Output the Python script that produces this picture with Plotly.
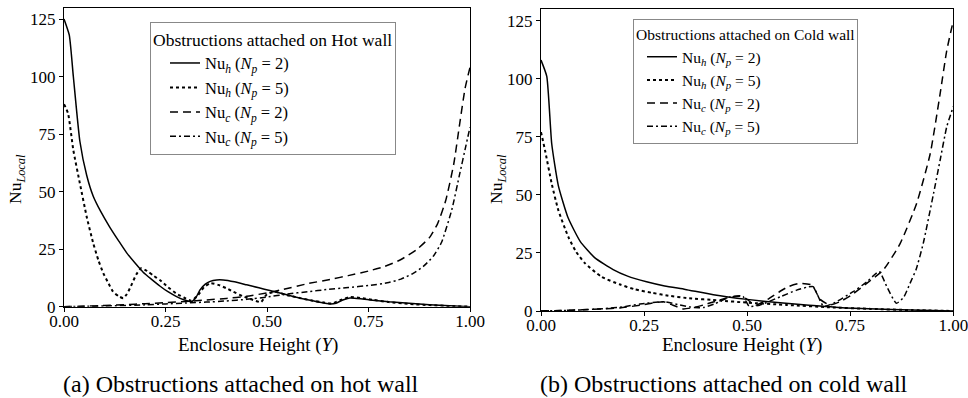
import plotly.graph_objects as go

# ---------------- data: hot wall (a) ----------------
hot_h2_x = [0, 0.013, 0.023, 0.039, 0.056, 0.072, 0.09, 0.113, 0.135, 0.154, 0.175, 0.195, 0.215, 0.236, 0.256,
            0.276, 0.295, 0.314, 0.325, 0.335, 0.348, 0.36, 0.376, 0.392, 0.42, 0.45, 0.48, 0.507, 0.54, 0.57,
            0.6, 0.63, 0.655, 0.67, 0.685, 0.704, 0.73, 0.76, 0.8, 0.85, 0.9, 0.95, 1.0]
hot_h2_y = [125, 118, 100, 72, 57, 48, 41.5, 34.5, 28.5, 23.5, 19, 15, 12, 9, 6.5,
            4.5, 3, 2.2, 4, 7.3, 9.8, 11, 11.6, 11.6, 10.8, 9.5, 8.2, 7, 5.6, 4.2,
            3, 1.9, 1.2, 1.5, 2.8, 3.8, 3.5, 2.8, 2.1, 1.5, 0.9, 0.4, 0]

hot_h5_x = [0, 0.01, 0.023, 0.039, 0.056, 0.072, 0.085, 0.097, 0.11, 0.121, 0.135, 0.146, 0.155, 0.165, 0.178,
            0.19, 0.205, 0.22, 0.236, 0.256, 0.276, 0.295, 0.314, 0.33, 0.345, 0.36, 0.38, 0.4, 0.417, 0.44,
            0.466, 0.485, 0.5, 0.52, 0.55, 0.58, 0.61, 0.64, 0.66, 0.68, 0.705, 0.73, 0.76, 0.8, 0.85, 0.9,
            0.95, 1.0]
hot_h5_y = [88, 84, 68, 53.7, 39, 27.6, 20, 14.5, 10, 6.5, 4.5, 3.7, 5.5, 9, 14,
            16.7, 15.5, 13.5, 11.6, 8.5, 5.8, 4, 2.6, 5, 8.5, 10.2, 9.5, 8, 6.5, 4.6,
            2.9, 2, 5.5, 6.5, 5, 3.8, 2.7, 1.8, 1.4, 2.8, 4.2, 3.8, 3, 2, 1.2, 0.7,
            0.3, 0]

hot_c2_x = [0, 0.05, 0.1, 0.15, 0.2, 0.25, 0.3, 0.35, 0.4, 0.45, 0.5, 0.54, 0.6, 0.66, 0.7, 0.75, 0.79,
            0.83, 0.87, 0.9, 0.92, 0.94, 0.96, 0.975, 0.988, 1.0]
hot_c2_y = [0, 0.2, 0.5, 0.9, 1.3, 1.8, 2.3, 2.9, 3.6, 4.5, 6, 7.5, 10, 12, 13.5, 15.5, 17.5,
            20.5, 25, 30, 36, 46, 62, 80, 95, 104]

hot_c5_x = [0, 0.1, 0.2, 0.25, 0.3, 0.35, 0.4, 0.45, 0.5, 0.55, 0.6, 0.65, 0.7, 0.75, 0.8, 0.83, 0.86,
            0.885, 0.91, 0.93, 0.955, 0.975, 0.99, 1.0]
hot_c5_y = [0, 0.3, 0.8, 1.2, 1.6, 2, 2.5, 3.2, 4.2, 5.5, 6.5, 7.5, 8.3, 9.2, 10.5, 12, 14.5,
            17.5, 22, 28, 42, 58, 70, 78]

# ---------------- data: cold wall (b) ----------------
cold_h2_x = [0, 0.014, 0.026, 0.042, 0.066, 0.095, 0.13, 0.175, 0.21, 0.256, 0.3, 0.35, 0.418, 0.5, 0.58,
             0.65, 0.74, 0.85, 0.95, 1.0]
cold_h2_y = [108, 101, 72, 54, 40, 30, 23, 17.8, 15, 12.6, 10.8, 9.3, 7, 5, 3.5,
             2.5, 1.3, 0.6, 0.2, 0]

cold_h5_x = [0, 0.01, 0.026, 0.042, 0.066, 0.085, 0.107, 0.147, 0.19, 0.228, 0.27, 0.309, 0.353, 0.434,
             0.5, 0.596, 0.7, 0.8, 0.9, 1.0]
cold_h5_y = [77, 69, 54.8, 43.4, 32, 25.5, 20.5, 14.7, 11.5, 9.3, 7.8, 6.6, 5.6, 4.5,
             3.6, 2.6, 1.6, 0.9, 0.4, 0]

cold_c2_x = [0, 0.05, 0.1, 0.15, 0.192, 0.24, 0.297, 0.32, 0.345, 0.37, 0.394, 0.42, 0.45, 0.483, 0.5,
             0.52, 0.55, 0.58, 0.6, 0.628, 0.657, 0.677, 0.7, 0.725, 0.75, 0.79, 0.83, 0.871, 0.911, 0.944,
             0.968, 0.984, 1.0]
cold_c2_y = [0, 0.2, 0.5, 0.9, 1.3, 2.5, 4, 2.5, 0.9, 1.5, 2.6, 4, 5.6, 6.5, 5,
             2.5, 5, 8.5, 10.5, 11.9, 11.2, 5, 2.6, 4, 6.5, 11.9, 17.6, 29, 46.3, 67.7,
             93.5, 112, 125]

cold_c5_x = [0, 0.05, 0.1, 0.15, 0.2, 0.24, 0.297, 0.337, 0.37, 0.394, 0.42, 0.458, 0.49, 0.505, 0.53,
             0.58, 0.62, 0.644, 0.66, 0.685, 0.709, 0.757, 0.79, 0.82, 0.84, 0.862, 0.88, 0.895, 0.91,
             0.927, 0.952, 0.968, 0.984, 1.0]
cold_c5_y = [0, 0.2, 0.5, 1, 1.8, 3, 4, 2.6, 1.5, 1.5, 3, 6, 6.2, 2, 2.5,
             6.1, 9, 10.2, 10.5, 2.1, 3.3, 8.3, 12.5, 17, 10, 3.3, 6, 11.9, 18,
             29, 50.5, 64.9, 79.2, 88]

x_ticks = [0, 0.25, 0.5, 0.75, 1.0]
y_ticks = [0, 25, 50, 75, 100, 125]

names = ["Nu<sub><i>h</i></sub> (<i>N</i><sub><i>p</i></sub> = 2)",
         "Nu<sub><i>h</i></sub> (<i>N</i><sub><i>p</i></sub> = 5)",
         "Nu<sub><i>c</i></sub> (<i>N</i><sub><i>p</i></sub> = 2)",
         "Nu<sub><i>c</i></sub> (<i>N</i><sub><i>p</i></sub> = 5)"]

FONT = "Liberation Serif, DejaVu Serif, serif"
W, H = 968, 398

styles = [dict(color="black", width=1.5, dash="solid"),
          dict(color="black", width=2, dash="dot"),
          dict(color="black", width=1.5, dash="8px,5px"),
          dict(color="black", width=1.5, dash="6px,3px,2px,3px")]

fig = go.Figure()
hot = [(hot_h2_x, hot_h2_y), (hot_h5_x, hot_h5_y), (hot_c2_x, hot_c2_y), (hot_c5_x, hot_c5_y)]
cold = [(cold_h2_x, cold_h2_y), (cold_h5_x, cold_h5_y), (cold_c2_x, cold_c2_y), (cold_c5_x, cold_c5_y)]
for i, (xs, ys) in enumerate(hot):
    fig.add_trace(go.Scatter(x=xs, y=ys, mode="lines", name=names[i],
                             line=dict(shape="spline", smoothing=0.5, **styles[i]),
                             xaxis="x", yaxis="y", legend="legend"))
for i, (xs, ys) in enumerate(cold):
    fig.add_trace(go.Scatter(x=xs, y=ys, mode="lines", name=names[i],
                             line=dict(shape="spline", smoothing=0.5, **styles[i]),
                             xaxis="x2", yaxis="y2", legend="legend2"))

def px_x(p):
    return p / W

def px_y(p):
    return 1 - p / H

axis_common = dict(showline=True, linecolor="black", linewidth=1, mirror=True, showgrid=False,
                   zeroline=False, ticks="outside", ticklen=4, tickcolor="black", automargin=False,
                   ticklabeloverflow="allow",
                   tickfont=dict(family=FONT, size=17, color="black"))

fig.update_layout(
    width=W, height=H, margin=dict(l=0, r=0, t=0, b=0, autoexpand=False),
    paper_bgcolor="white", plot_bgcolor="white",
    font=dict(family=FONT, color="black"),
    xaxis=dict(domain=[px_x(64), px_x(470)], range=[0, 1], tickvals=x_ticks, tickformat=".2f",
               anchor="y", ticklabelstandoff=-5, **axis_common),
    yaxis=dict(domain=[px_y(306.7), px_y(7.5)], range=[0, 130], tickvals=y_ticks, anchor="x",
               **axis_common),
    xaxis2=dict(domain=[px_x(541), px_x(953.3)], range=[0, 1], tickvals=x_ticks, tickformat=".2f",
                anchor="y2", ticklabelstandoff=-5, **axis_common),
    yaxis2=dict(domain=[px_y(311), px_y(9)], range=[0, 130], tickvals=y_ticks, anchor="x2",
                **axis_common),
    legend=dict(x=px_x(150), y=px_y(22), xanchor="left", yanchor="top", bgcolor="white",
                bordercolor="#888", borderwidth=1, font=dict(family=FONT, size=16.5),
                title=dict(text="Obstructions attached on Hot wall", font=dict(family=FONT, size=17.5)),
                tracegroupgap=0, itemwidth=30, indentation=14),
    legend2=dict(x=px_x(633), y=px_y(19), xanchor="left", yanchor="top", bgcolor="white",
                 bordercolor="#888", borderwidth=1, font=dict(family=FONT, size=15.5),
                 title=dict(text="Obstructions attached on Cold wall", font=dict(family=FONT, size=15.5)),
                 tracegroupgap=0, itemwidth=30, indentation=8),
    showlegend=True,
)

ann = [
    dict(text="Enclosure Height (<i>Y</i>)", x=px_x(258), y=px_y(345), size=19, angle=0),
    dict(text="Enclosure Height (<i>Y</i>)", x=px_x(742), y=px_y(345), size=19, angle=0),
    dict(text="Nu<sub><i>Local</i></sub>", x=px_x(16), y=px_y(179), size=17.5, angle=-90),
    dict(text="Nu<sub><i>Local</i></sub>", x=px_x(497), y=px_y(179), size=17.5, angle=-90),
    dict(text="(a) Obstructions attached on hot wall", x=px_x(241), y=px_y(384), size=24, angle=0),
    dict(text="(b) Obstructions attached on cold wall", x=px_x(724), y=px_y(384), size=24, angle=0),
]
for a in ann:
    fig.add_annotation(text=a["text"], x=a["x"], y=a["y"], xref="paper", yref="paper",
                       xanchor="center", yanchor="middle", showarrow=False, textangle=a["angle"],
                       font=dict(family=FONT, size=a["size"], color="black"))

fig.write_html("out.html")
